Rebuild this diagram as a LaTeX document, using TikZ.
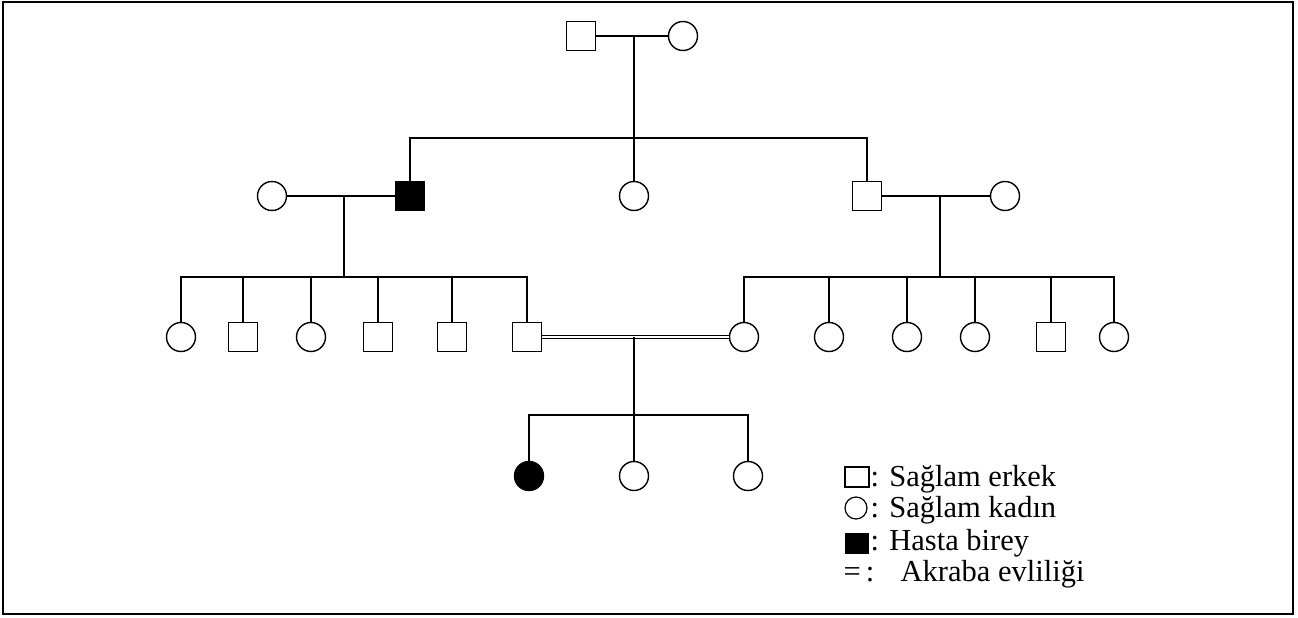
\documentclass[tikz,border=0pt]{standalone}
\usepackage{fontspec}
\setmainfont{Liberation Serif}
\begin{document}
\begin{tikzpicture}[x=1pt,y=-1pt,line width=1.4pt,
  erkek/.style={draw,rectangle,minimum size=29pt,inner sep=0pt},
  kadin/.style={draw,circle,minimum size=29pt,inner sep=0pt},
  hasta/.style={fill=black},
  anahtar/.style={anchor=base west,inner sep=0pt,font=\fontsize{30.5}{33}\selectfont}]
\useasboundingbox (0,0) rectangle (1298,618);
\draw[line width=2.6pt] (3,2) rectangle (1293,614);
% I. kusak
\node[erkek] (d1) at (581,36) {};
\node[kadin] (a1) at (683,36) {};
\coordinate (e1) at (634,36);
\coordinate (k1) at (634,138);
\draw (d1) -- (a1);
\draw (e1) -- (k1);
% II. kusak
\node[erkek,hasta] (c2a) at (410,196) {};
\node[kadin] (c2b) at (634,196) {};
\node[erkek] (c2c) at (867,196) {};
\draw (c2a) |- (k1) -| (c2c);
\draw (k1) -- (c2b);
\node[kadin] (es2a) at (272,196) {};
\node[kadin] (es2c) at (1005,196) {};
\draw (es2a) -- (c2a);
\draw (c2c) -- (es2c);
\coordinate (e2a) at (344,196);
\coordinate (k2a) at (344,277);
\coordinate (e2c) at (940,196);
\coordinate (k2c) at (940,277);
\draw (e2a) -- (k2a);
\draw (e2c) -- (k2c);
% III. kusak
\node[kadin] (s1) at (181,337) {};
\node[erkek] (s2) at (243,337) {};
\node[kadin] (s3) at (311,337) {};
\node[erkek] (s4) at (378,337) {};
\node[erkek] (s5) at (452,337) {};
\node[erkek] (s6) at (527,337) {};
\node[kadin] (t1) at (744,337) {};
\node[kadin] (t2) at (829,337) {};
\node[kadin] (t3) at (907,337) {};
\node[kadin] (t4) at (975,337) {};
\node[erkek] (t5) at (1051,337) {};
\node[kadin] (t6) at (1114,337) {};
\draw (s1) |- (k2a) -| (s6);
\foreach \c in {s2,s3,s4,s5} \draw (\c) -- (\c |- k2a);
\draw (t1) |- (k2c) -| (t6);
\foreach \c in {t2,t3,t4,t5} \draw (\c) -- (\c |- k2c);
\draw[double,double distance=2.4pt,line width=1.2pt] (s6) -- (t1);
\coordinate (e3) at (634,337);
\coordinate (k3) at (634,415);
\draw (e3) -- (k3);
% IV. kusak
\node[kadin,hasta] (u1) at (529,476) {};
\node[kadin] (u2) at (634,476) {};
\node[kadin] (u3) at (748,476) {};
\draw (u1) |- (k3) -| (u3);
\draw (k3) -- (u2);
% anahtar
\node[draw,rectangle,minimum width=24pt,minimum height=20pt,inner sep=0pt,line width=1.2pt] (ae) at (857,477) {};
\node[anahtar] (aet) at (870,486) {: Sağlam erkek};
\node[draw,circle,minimum size=22pt,inner sep=0pt,line width=1.2pt] (ak) at (856,508) {};
\node[anahtar] (akt) at (870,517) {: Sağlam kadın};
\node[fill=black,rectangle,minimum width=24pt,minimum height=21pt,inner sep=0pt] (ah) at (857,543) {};
\node[anahtar] (aht) at (870,550) {: Hasta birey};
\node[anahtar] (aa) at (843,581) {=\,:};
\node[anahtar] (aat) at (900,581) {Akraba evliliği};
\end{tikzpicture}
\end{document}
